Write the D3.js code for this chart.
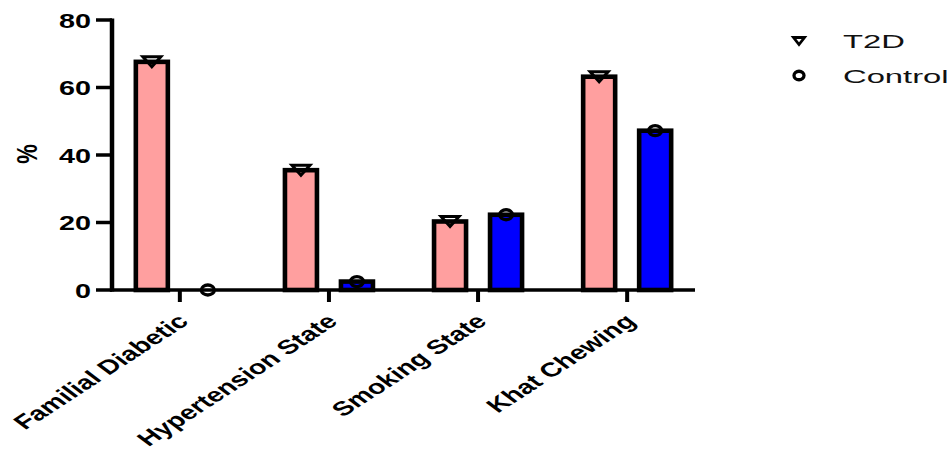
<!DOCTYPE html>
<html>
<head>
<meta charset="utf-8">
<script src="https://cdn.jsdelivr.net/npm/d3@7"></script>
<style>
  body { margin: 0; background: #fff; }
  svg { display: block; font-family: "Liberation Sans", Arial, sans-serif; }
</style>
</head>
<body>
<svg width="949" height="449"></svg>
<script>
// data
const categories = ["Familial Diabetic", "Hypertension State", "Smoking State", "Khat Chewing"];
const series = ["T2D", "Control"];
const t2dValues = [67.6, 35.5, 20.3, 63.2];
const controlValues = [0, 2.5, 22.3, 47.2];
const yTicks = [0, 20, 40, 60, 80];
const seriesColors = ["#ff9f9f", "#0000ff"];

const svg = d3.select("svg");
const sx = 1.37; // picture is stretched horizontally

// scales
const y = d3.scaleLinear().domain([0, 80]).range([290, 20]);
const x = d3.scalePoint().domain(categories).range([112, 695]).padding(0.455);
const x1 = d3.scaleBand().domain(series).range([-44, 44]).paddingInner(0.4286);

const rows = categories.map((c, i) => ({ cat: c, values: [t2dValues[i], controlValues[i]] }));

// bars
const groups = svg.append("g").selectAll("g")
  .data(rows)
  .enter().append("g")
    .attr("transform", d => "translate(" + x(d.cat) + ",0)");

groups.selectAll("rect")
  .data(d => d.values.map((v, j) => ({ s: series[j], v: v, j: j })))
  .enter().append("rect")
    .attr("x", d => x1(d.s))
    .attr("width", x1.bandwidth())
    .attr("y", d => y(d.v))
    .attr("height", d => y(0) - y(d.v))
    .attr("fill", d => seriesColors[d.j])
    .attr("stroke", "#000")
    .attr("stroke-width", 4.6);

// markers (open symbols)
function triangle(w, h) {
  return "M" + (-w / 2) + "," + (-h / 2) + "L" + (w / 2) + "," + (-h / 2) + "L0," + (h / 2) + "Z";
}
function marker(sel, j, w, h, sw) {
  if (j === 0) {
    sel.append("path").attr("d", triangle(w, h));
  } else {
    sel.append("ellipse").attr("rx", w / 2).attr("ry", h / 2);
  }
  sel.selectAll("path,ellipse")
    .attr("fill", "none")
    .attr("stroke", "#000")
    .attr("stroke-width", sw);
}

// axes
const axisG = svg.append("g");
axisG.append("line")
  .attr("x1", 112).attr("x2", 112)
  .attr("y1", y(80) - 1.5).attr("y2", y(0) + 1.5)
  .attr("stroke", "#000").attr("stroke-width", 4.5);
axisG.append("line")
  .attr("x1", 110).attr("x2", 695)
  .attr("y1", y(0)).attr("y2", y(0))
  .attr("stroke", "#000").attr("stroke-width", 3.5);

axisG.selectAll(".ytick")
  .data(yTicks)
  .enter().append("line")
    .attr("x1", 96).attr("x2", 112)
    .attr("y1", d => y(d)).attr("y2", d => y(d))
    .attr("stroke", "#000").attr("stroke-width", 3.5);

axisG.selectAll(".ylab")
  .data(yTicks)
  .enter().append("text")
    .attr("transform", d => "translate(91," + (y(d) + 7.5) + ") scale(" + sx + ",1)")
    .attr("text-anchor", "end")
    .attr("font-size", 21)
    .attr("font-weight", "bold")
    .text(d => d);

axisG.selectAll(".xtick")
  .data(categories)
  .enter().append("line")
    .attr("x1", d => x(d)).attr("x2", d => x(d))
    .attr("y1", y(0)).attr("y2", y(0) + 12)
    .attr("stroke", "#000").attr("stroke-width", 4);

axisG.selectAll(".xlab")
  .data(categories)
  .enter().append("text")
    .attr("transform", d => "translate(" + (x(d) + 10) + ",323) scale(1.43,1) rotate(-43)")
    .attr("text-anchor", "end")
    .attr("font-size", 20)
    .attr("font-weight", "bold")
    .text(d => d);

svg.append("text")
  .attr("transform", "translate(37,154) scale(" + sx + ",1) rotate(-90)")
  .attr("text-anchor", "middle")
  .attr("font-size", 22)
  .attr("font-weight", "bold")
  .text("%");

// data markers on top of bars
groups.each(function(d) {
  const g = d3.select(this);
  d.values.forEach((v, j) => {
    const m = g.append("g")
      .attr("transform", "translate(" + (x1(series[j]) + x1.bandwidth() / 2) + "," + y(v) + ")");
    if (j === 0) marker(m, 0, 18, 10, 3);
    else marker(m, 1, 13, 10, 3.3);
  });
});

// legend
const legend = svg.append("g").selectAll("g")
  .data(series)
  .enter().append("g")
    .attr("transform", (d, i) => "translate(799," + (41 + i * 34.5) + ")");
legend.each(function(d, i) {
  const g = d3.select(this);
  const m = g.append("g");
  if (i === 0) marker(m, 0, 11, 7, 2.8);
  else marker(m, 1, 10, 8.5, 3.3);
  g.append("text")
    .attr("transform", "translate(44,7) scale(1.82,1)")
    .attr("font-size", 18)
    .attr("fill", "#111")
    .text(d);
});
</script>
</body>
</html>
